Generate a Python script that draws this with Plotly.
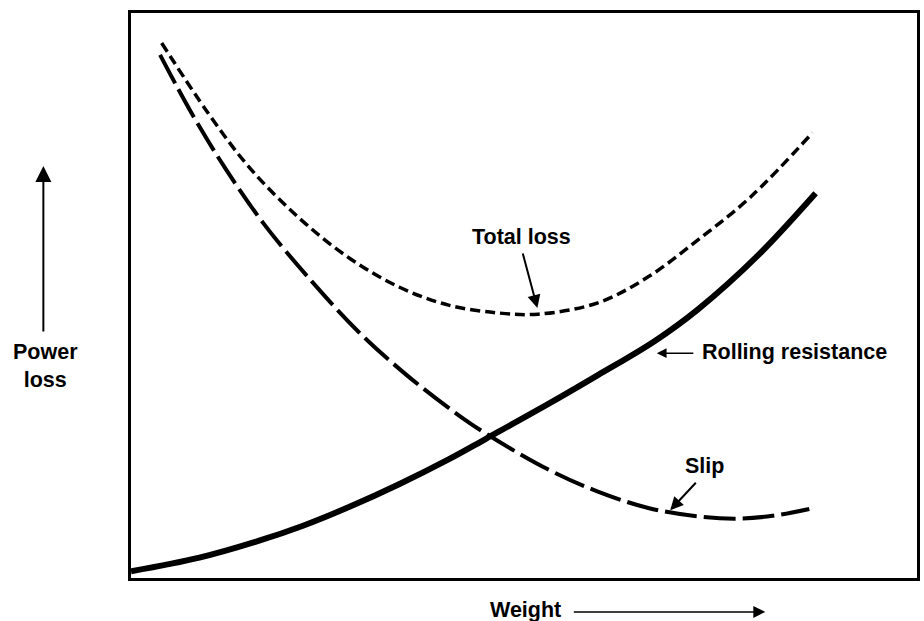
import plotly.graph_objects as go

# Weight (arbitrary units, 0-100) and power loss (arbitrary units, 0-100)
total_x = [3.9, 9.8, 15.1, 21.4, 27.8, 34.1, 40.4, 46.8, 51.8, 59.4, 65.8, 72.1, 78.8, 86.7]
total_y = [94.7, 82.3, 72.6, 63.7, 56.6, 51.5, 48.3, 46.9, 46.7, 48.7, 53.3, 59.8, 67.4, 78.8]

slip_x = [3.7, 7.7, 12.0, 17.0, 23.0, 29.0, 35.0, 41.0, 45.1, 53.1, 59.4, 65.8, 72.1, 77.2, 81.6, 86.3]
slip_y = [92.6, 82.3, 72.5, 62.5, 52.5, 43.5, 36.0, 29.5, 25.6, 19.2, 15.3, 12.4, 10.9, 10.5, 11.0, 12.2]

roll_x = [0.0, 8.7, 16.3, 21.8, 27.8, 34.1, 40.4, 45.1, 53.1, 59.4, 66.7, 72.1, 79.7, 87.1]
roll_y = [1.2, 3.6, 6.6, 9.2, 12.6, 16.6, 21.0, 24.6, 30.8, 35.9, 42.0, 47.5, 57.0, 68.1]

FONT = "Liberation Sans, Arial, Helvetica, sans-serif"

fig = go.Figure()
fig.add_trace(go.Scatter(x=total_x, y=total_y, mode="lines", name="Total loss",
                         line=dict(color="black", width=3.5, dash="10px,5px", shape="spline")))
fig.add_trace(go.Scatter(x=slip_x, y=slip_y, mode="lines", name="Slip",
                         line=dict(color="black", width=4, dash="32px,7px", shape="spline")))
fig.add_trace(go.Scatter(x=roll_x, y=roll_y, mode="lines", name="Rolling resistance",
                         line=dict(color="black", width=6, shape="spline")))

ann = []
# curve labels
ann.append(dict(x=49.7, y=60.4, text="<b>Total loss</b>", showarrow=False, xref="x", yref="y"))
ann.append(dict(x=51.7, y=47.8, text="", showarrow=True, ax=-15, ay=-56, xref="x", yref="y",
                arrowhead=2, arrowsize=1.3, arrowwidth=2, arrowcolor="black"))
ann.append(dict(x=72.4, y=40.0, text="<b>Rolling resistance</b>", showarrow=False, xanchor="left",
                xref="x", yref="y"))
ann.append(dict(x=66.9, y=39.8, text="", showarrow=True, ax=38, ay=0, xref="x", yref="y",
                arrowhead=2, arrowsize=1.3, arrowwidth=1.5, arrowcolor="black"))
ann.append(dict(x=73.0, y=19.8, text="<b>Slip</b>", showarrow=False, xref="x", yref="y"))
ann.append(dict(x=68.6, y=12.0, text="", showarrow=True, ax=27, ay=-29, xref="x", yref="y",
                arrowhead=2, arrowsize=1.3, arrowwidth=2, arrowcolor="black"))
# axis titles with arrows
ann.append(dict(x=-0.109, y=0.375, xref="paper", yref="paper", text="<b>Power<br>loss</b>",
                showarrow=False, align="center", xanchor="center", yanchor="middle"))
ann.append(dict(x=-0.1115, y=0.729, xref="paper", yref="paper", text="", showarrow=True,
                ax=0, ay=167, arrowhead=2, arrowsize=1.6, arrowwidth=2, arrowcolor="black"))
ann.append(dict(x=0.502, y=-0.057, xref="paper", yref="paper", text="<b>Weight</b>",
                showarrow=False, xanchor="center", yanchor="middle"))
ann.append(dict(x=0.807, y=-0.060, xref="paper", yref="paper", text="", showarrow=True,
                ax=-193, ay=0, arrowhead=2, arrowsize=1.6, arrowwidth=1.5, arrowcolor="black"))

fig.update_layout(
    width=924, height=621,
    margin=dict(l=131, r=4, t=13, b=43),
    paper_bgcolor="white", plot_bgcolor="white",
    showlegend=False,
    font=dict(family=FONT, size=21.5, color="black"),
    annotations=ann,
)
axis_common = dict(showgrid=False, zeroline=False, showticklabels=False, ticks="",
                   showline=True, linecolor="black", linewidth=2.5, mirror=True, fixedrange=True)
fig.update_xaxes(range=[0, 100], **axis_common)
fig.update_yaxes(range=[0, 100], **axis_common)

fig.write_html("out.html", config={"displayModeBar": False},
               post_script="document.body.style.margin='0';document.body.style.overflow='hidden';")
